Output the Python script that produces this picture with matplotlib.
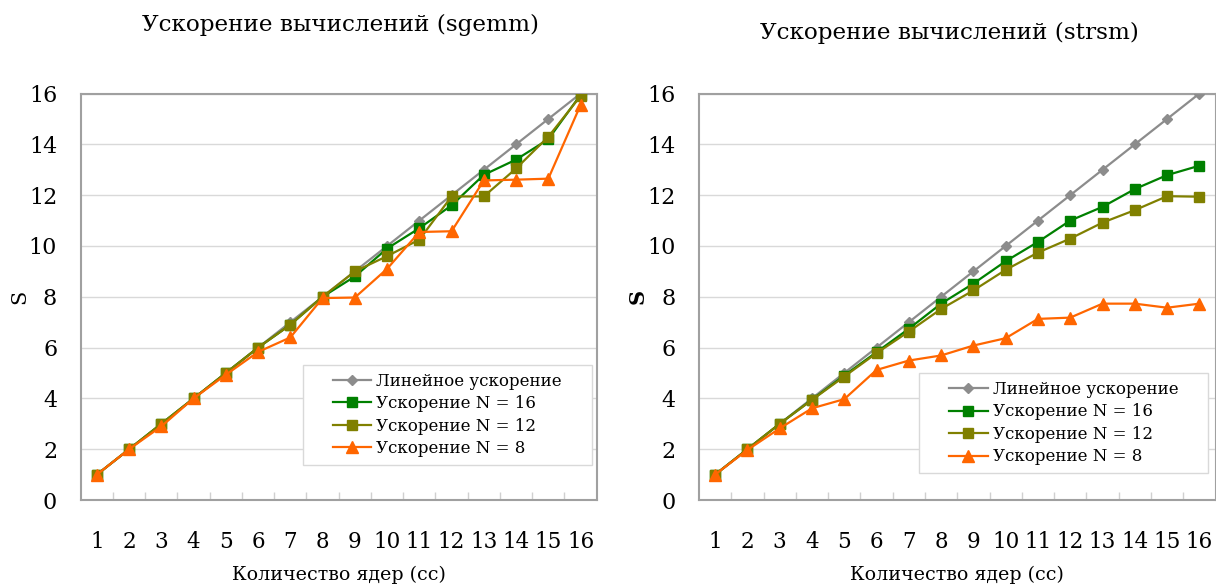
import matplotlib
matplotlib.use('Agg')
import matplotlib.pyplot as plt
from matplotlib.patches import Rectangle

# Data
cores = list(range(1, 17))
tick_labels = [str(c) for c in cores]

sgemm_linear = [1, 2, 3, 4, 5, 6, 7, 8, 9, 10, 11, 12, 13, 14, 15, 16]
sgemm_n16 = [1, 2, 3, 4, 5, 6, 6.9, 8, 8.8, 9.9, 10.7, 11.6, 12.8, 13.4, 14.2, 15.95]
sgemm_n12 = [1, 2, 3, 4, 5, 6, 6.9, 8, 9.0, 9.6, 10.25, 11.95, 11.95, 13.05, 14.3, 15.9]
sgemm_n8 = [1, 2, 2.9, 4, 4.93, 5.83, 6.4, 7.95, 7.97, 9.1, 10.55, 10.58, 12.58, 12.61, 12.65, 15.55]

strsm_linear = [1, 2, 3, 4, 5, 6, 7, 8, 9, 10, 11, 12, 13, 14, 15, 16]
strsm_n16 = [1, 2, 3, 3.95, 4.9, 5.82, 6.74, 7.73, 8.52, 9.4, 10.16, 11.0, 11.54, 12.24, 12.79, 13.16]
strsm_n12 = [1, 2, 3, 3.94, 4.86, 5.78, 6.63, 7.52, 8.25, 9.06, 9.74, 10.29, 10.92, 11.41, 11.96, 11.94]
strsm_n8 = [1, 1.97, 2.82, 3.61, 3.97, 5.12, 5.49, 5.69, 6.08, 6.37, 7.13, 7.18, 7.73, 7.73, 7.57, 7.73]

series_labels = ['Линейное ускорение', 'Ускорение N = 16', 'Ускорение N = 12', 'Ускорение N = 8']
colors = ['#8c8c8c', '#008000', '#808000', '#ff6600']
markers = ['D', 's', 's', '^']
msizes = [5, 7, 7, 8]

plt.rcParams['font.family'] = ['DejaVu Serif']

fig = plt.figure(figsize=(12.16, 5.84), dpi=100)
ax1 = fig.add_axes([0.0664, 0.1438, 0.4243, 0.696])
ax2 = fig.add_axes([0.5748, 0.1438, 0.4248, 0.696])


def plot_panel(ax, series, title, title_pos, legend_box, ylabel_weight):
    for vals, lab, c, m, ms in zip(series, series_labels, colors, markers, msizes):
        ax.plot(cores, vals, color=c, marker=m, markersize=ms, lw=1.6,
                markerfacecolor=c, markeredgecolor=c, label=lab, zorder=3)

    ax.set_xlim(0.5, 16.5)
    ax.set_ylim(0, 16)
    ax.set_yticks(range(0, 17, 2))
    ax.set_xticks(cores)
    ax.set_xticklabels(tick_labels)
    ax.set_xticks([c + 0.5 for c in cores[:-1]], minor=True)
    ax.grid(axis='y', color='#d9d9d9', lw=1)
    ax.set_axisbelow(True)
    ax.tick_params(axis='y', length=0, labelsize=16, pad=17)
    ax.tick_params(axis='x', which='major', length=0, labelsize=15.5, pad=22)
    ax.tick_params(axis='x', which='minor', direction='in', length=6, color='#d0d0d0', width=1)
    for s in ax.spines.values():
        s.set_color('#a0a0a0')
        s.set_linewidth(1.5)

    ax.set_xlabel('Количество ядер (cc)', fontsize=13.7)
    ax.xaxis.label.set_va('center')
    ax.xaxis.set_label_coords(0.5, -0.185)
    ax.set_ylabel('S', fontsize=15, fontweight=ylabel_weight)
    ax.yaxis.label.set_va('center')
    ax.yaxis.set_label_coords(-0.118, 0.5)

    ax.text(title_pos[0], title_pos[1], title, transform=ax.transAxes,
            ha='center', va='center', fontsize=16.7)

    x0, y0, w, h = legend_box
    ax.add_patch(Rectangle((x0, y0), w, h, transform=ax.transAxes, facecolor='white',
                           edgecolor='#d9d9d9', lw=1, zorder=4))
    leg = ax.legend(loc='center', bbox_to_anchor=(x0, y0, w, h), frameon=False,
                    fontsize=12, handlelength=2.3, handletextpad=0.3,
                    labelspacing=0.33, borderpad=0)
    leg.set_zorder(5)


plot_panel(ax1, [sgemm_linear, sgemm_n16, sgemm_n12, sgemm_n8],
           'Ускорение вычислений (sgemm)', (0.504, 1.1685),
           (0.431, 0.086, 0.56, 0.246), 'normal')
plot_panel(ax2, [strsm_linear, strsm_n16, strsm_n12, strsm_n8],
           'Ускорение вычислений (strsm)', (0.484, 1.150),
           (0.426, 0.066, 0.56, 0.246), 'bold')

fig.savefig('out.png', dpi=100)
